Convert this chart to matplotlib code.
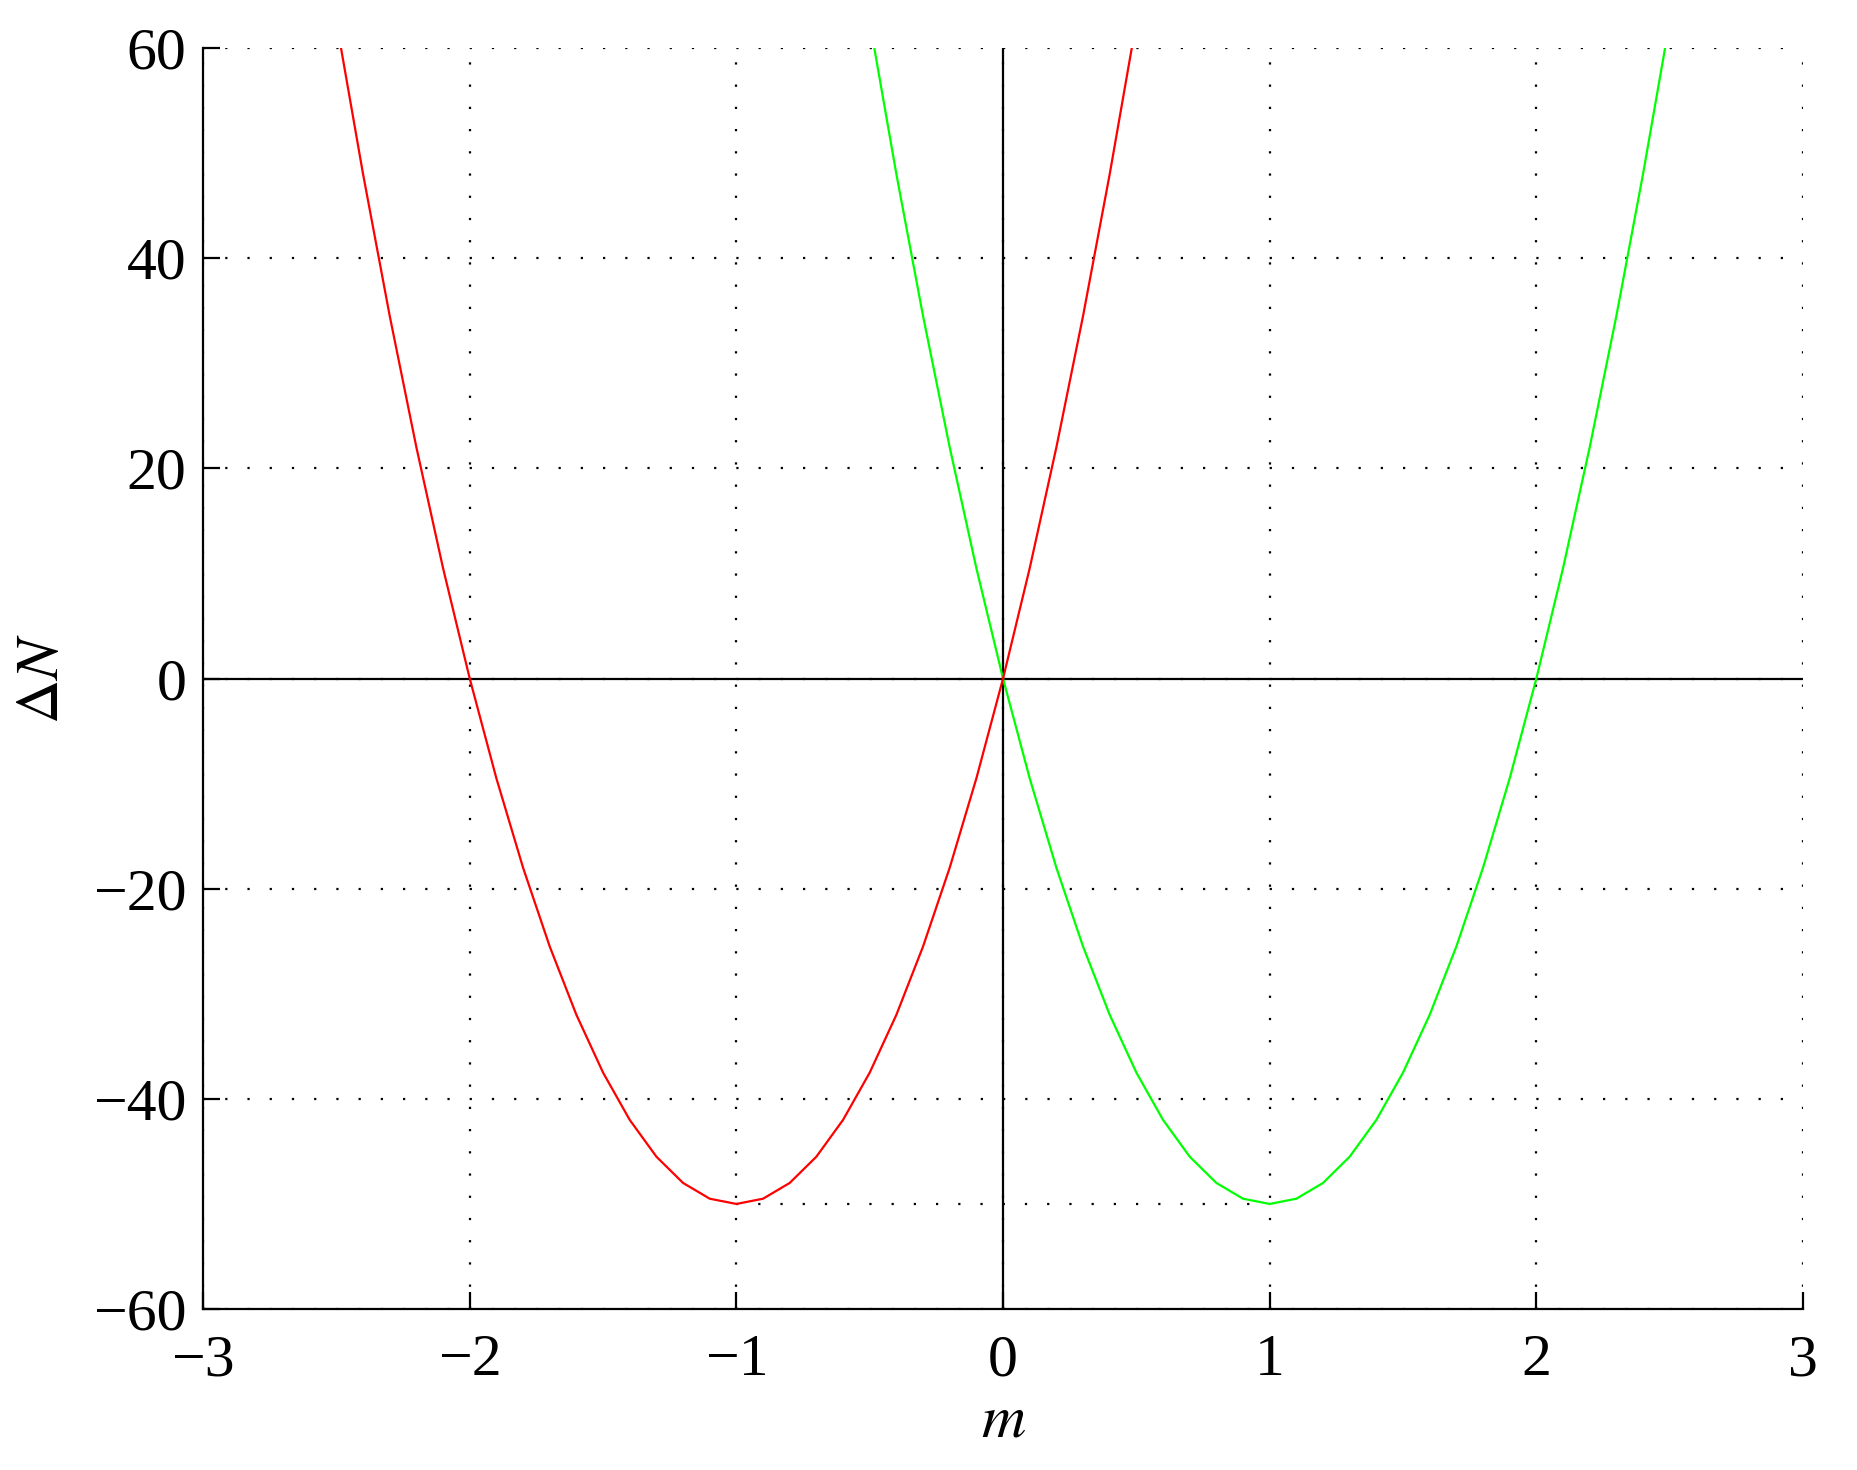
import matplotlib
matplotlib.use('Agg')
import matplotlib.pyplot as plt

plt.rcParams['font.family'] = ['Liberation Serif', 'DejaVu Serif']
plt.rcParams['mathtext.fontset'] = 'stix'

m_red = [-2.5, -2.4, -2.3, -2.2, -2.1, -2.0, -1.9, -1.8, -1.7, -1.6, -1.5,
         -1.4, -1.3, -1.2, -1.1, -1.0, -0.9, -0.8, -0.7, -0.6, -0.5,
         -0.4, -0.3, -0.2, -0.1, 0.0, 0.1, 0.2, 0.3, 0.4, 0.5]
dN_red = [62.5, 48, 34.5, 22, 10.5, 0, -9.5, -18, -25.5, -32, -37.5,
          -42, -45.5, -48, -49.5, -50, -49.5, -48, -45.5, -42, -37.5,
          -32, -25.5, -18, -9.5, 0, 10.5, 22, 34.5, 48, 62.5]
m_green = [-0.5, -0.4, -0.3, -0.2, -0.1, 0.0, 0.1, 0.2, 0.3, 0.4, 0.5,
           0.6, 0.7, 0.8, 0.9, 1.0, 1.1, 1.2, 1.3, 1.4, 1.5,
           1.6, 1.7, 1.8, 1.9, 2.0, 2.1, 2.2, 2.3, 2.4, 2.5]
dN_green = [62.5, 48, 34.5, 22, 10.5, 0, -9.5, -18, -25.5, -32, -37.5,
            -42, -45.5, -48, -49.5, -50, -49.5, -48, -45.5, -42, -37.5,
            -32, -25.5, -18, -9.5, 0, 10.5, 22, 34.5, 48, 62.5]
min_m = [-1, 1]
min_dN = [-50, -50]

xticks = [-3, -2, -1, 0, 1, 2, 3]
yticks = [-60, -40, -20, 0, 20, 40, 60]

fig = plt.figure(figsize=(9.29, 7.35), dpi=200)
ax = fig.add_axes([0.1093, 0.1095, 0.8611, 0.8578])

dot = (0, (1, 9))
ax.set_xlim(-3, 3)
ax.set_ylim(-60, 60)
ax.set_xticks(xticks)
ax.set_yticks(yticks)
ax.grid(True, color='black', linestyle=dot, linewidth=0.8)
ax.set_axisbelow(True)

ax.axhline(0, color='black', linewidth=0.8)
ax.axvline(0, color='black', linewidth=0.8)
ax.plot(min_m, min_dN, color='black', linestyle=dot, linewidth=0.8)
ax.plot(m_green, dN_green, color='#00ff00', linewidth=0.8)
ax.plot(m_red, dN_red, color='red', linewidth=0.8)

for s in ['top', 'right']:
    ax.spines[s].set_visible(False)
for s in ['left', 'bottom']:
    ax.spines[s].set_linewidth(0.8)

ax.tick_params(direction='in', length=6, width=0.8, labelsize=21.5, pad=6)
ax.tick_params(axis='x', pad=9)

ax.set_xlabel(r'$m$', fontsize=22, labelpad=2)
ax.set_ylabel(r'$\Delta N$', fontsize=22, labelpad=8)

plt.savefig('out.png', dpi=200)
